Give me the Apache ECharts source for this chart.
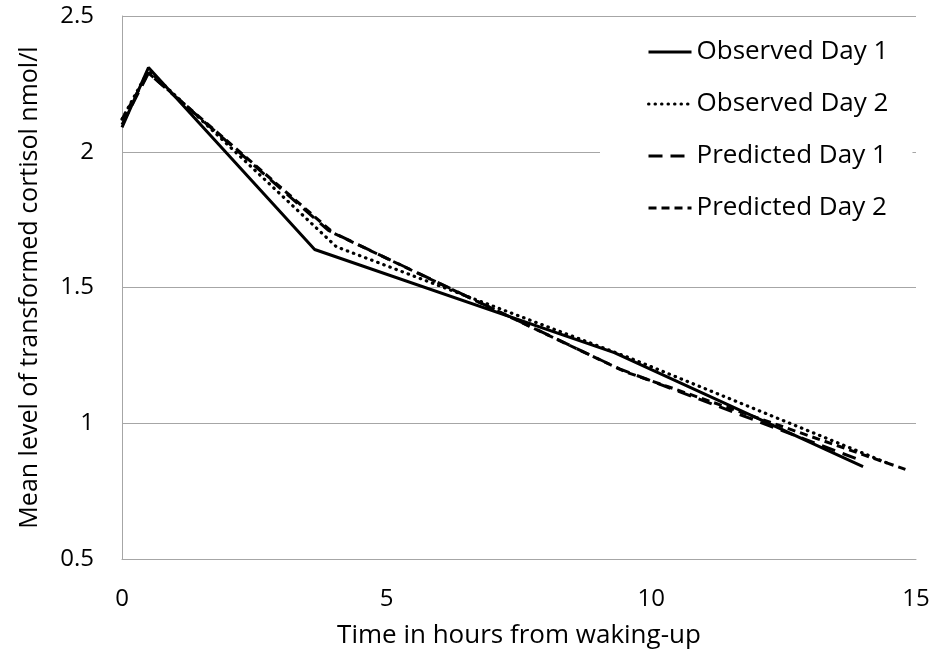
<!DOCTYPE html>
<html>
<head>
<meta charset="utf-8">
<script src="https://cdn.jsdelivr.net/npm/echarts@6/dist/echarts.min.js"></script>
<style>html,body{margin:0;padding:0;background:#fff;}#c{width:938px;height:658px;}</style>
</head>
<body>
<div id="c"></div>
<script>
var seriesNames = ['Observed Day 1', 'Observed Day 2', 'Predicted Day 1', 'Predicted Day 2'];
var observedDay1 = [[0, 2.09], [0.5, 2.31], [3.64, 1.64], [9.3, 1.26], [14.0, 0.84]];
var observedDay2 = [[0, 2.12], [0.5, 2.30], [4.05, 1.65], [9.6, 1.24], [14.5, 0.85]];
var predictedDay1 = [[0, 2.10], [0.5, 2.29], [3.9, 1.71], [9.4, 1.20], [14.0, 0.86]];
var predictedDay2 = [[0, 2.12], [0.5, 2.29], [4.0, 1.70], [9.5, 1.19], [14.8, 0.83]];
var xTicks = [0, 5, 10, 15];
var yTicks = [0.5, 1, 1.5, 2, 2.5];

var FONT = 'Open Sans';
var chart = echarts.init(document.getElementById('c'), null, {renderer: 'canvas'});
function mk(name, data, ls) {
  return {
    name: name, type: 'line', data: data, symbol: 'none', animation: false,
    lineStyle: Object.assign({color: '#000', width: 3}, ls),
    itemStyle: {color: '#000'},
    z: 3
  };
}
chart.setOption({
  backgroundColor: '#fff',
  animation: false,
  textStyle: {fontFamily: FONT, color: '#000'},
  grid: {left: 122, right: 22, top: 16, bottom: 99, containLabel: false},
  xAxis: {
    type: 'value', min: xTicks[0], max: xTicks[xTicks.length - 1], interval: 5,
    name: 'Time in hours from waking-up', nameLocation: 'middle', nameGap: 64,
    nameTextStyle: {fontFamily: FONT, fontSize: 26, color: '#000'},
    axisLine: {show: true, lineStyle: {color: '#a6a6a6', width: 1}},
    axisTick: {show: false},
    splitLine: {show: false},
    axisLabel: {fontFamily: FONT, fontSize: 24, color: '#000', margin: 28}
  },
  yAxis: {
    type: 'value', min: yTicks[0], max: yTicks[yTicks.length - 1], interval: 0.5,
    name: 'Mean level of transformed cortisol nmol/l', nameLocation: 'middle', nameGap: 80,
    nameTextStyle: {fontFamily: FONT, fontSize: 25, color: '#000'},
    axisLine: {show: true, lineStyle: {color: '#a6a6a6', width: 1}},
    axisTick: {show: false},
    splitLine: {show: true, lineStyle: {color: '#a6a6a6', width: 1}},
    axisLabel: {fontFamily: FONT, fontSize: 24, color: '#000', margin: 28}
  },
  legend: {
    orient: 'vertical', left: 600, top: 25,
    padding: [12, 24, 12, 47],
    backgroundColor: '#fff',
    itemWidth: 43, itemHeight: 14, itemGap: 22,
    itemStyle: {opacity: 0},
    lineStyle: {width: 3},
    textStyle: {fontFamily: FONT, fontSize: 26, color: '#000', lineHeight: 30, padding: [0, 0, 0, 0]},
    data: seriesNames
  },
  series: [
    mk(seriesNames[0], observedDay1, {type: 'solid', width: 3}),
    mk(seriesNames[1], observedDay2, {type: [0.5, 6], cap: 'round', width: 3.2}),
    mk(seriesNames[2], predictedDay1, {type: [14, 8], width: 3}),
    mk(seriesNames[3], predictedDay2, {type: [8, 5], width: 3})
  ]
});
</script>
</body>
</html>
